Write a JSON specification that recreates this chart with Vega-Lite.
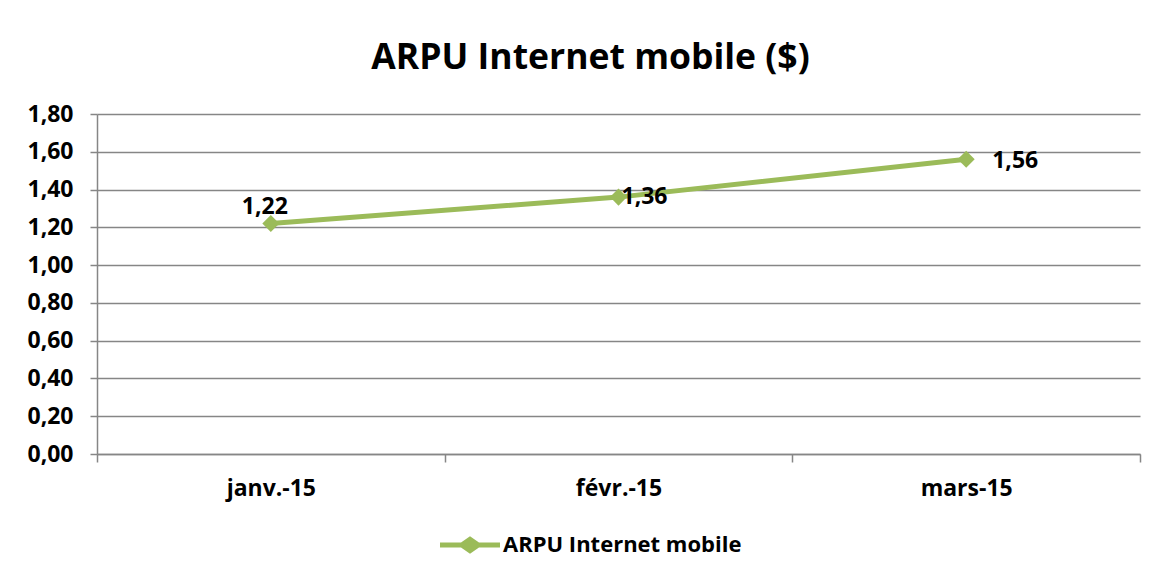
{
  "$schema": "https://vega.github.io/schema/vega-lite/v6.json",
  "width": 1043,
  "height": 340,
  "autosize": {"type": "none"},
  "padding": {"left": 97, "top": 114, "right": 27, "bottom": 127},
  "background": "white",
  "config": {
    "locale": {"number": {"decimal": ",", "thousands": " ", "grouping": [3], "currency": ["", " $"]}},
    "view": {"stroke": null},
    "font": "Open Sans"
  },
  "title": {"text": "ARPU Internet mobile ($)", "fontSize": 35.5, "font": "Open Sans", "fontWeight": "bold", "color": "#000000", "anchor": "middle", "dx": -28, "offset": 27},
  "data": {
    "values": [
      {"mois": "janv.-15", "arpu": 1.22, "serie": "ARPU Internet mobile"},
      {"mois": "févr.-15", "arpu": 1.36, "serie": "ARPU Internet mobile"},
      {"mois": "mars-15", "arpu": 1.56, "serie": "ARPU Internet mobile"}
    ]
  },
  "encoding": {
    "x": {
      "field": "mois", "type": "nominal", "sort": null,
      "scale": {"paddingInner": 0, "paddingOuter": 0},
      "axis": {"title": null, "labelAngle": 0, "labelFont": "Open Sans", "labelFontSize": 23, "labelFontWeight": "bold", "labelColor": "#000000", "tickBand": "extent", "tickSize": 8, "tickColor": "#868686", "tickWidth": 1.5, "domainColor": "#868686", "domainWidth": 1.5, "grid": false, "labelPadding": 15}
    },
    "y": {
      "field": "arpu", "type": "quantitative",
      "scale": {"domain": [0, 1.8]},
      "axis": {"title": null, "values": [0, 0.2, 0.4, 0.6, 0.8, 1.0, 1.2, 1.4, 1.6, 1.8], "format": ".2f", "labelFont": "Open Sans", "labelFontSize": 23, "labelFontWeight": "bold", "labelColor": "#000000", "tickSize": 7, "tickColor": "#868686", "tickWidth": 1.5, "labelPadding": 17, "gridColor": "#868686", "gridWidth": 1.5, "domainColor": "#868686", "domainWidth": 1.5}
    }
  },
  "layer": [
    {
      "mark": {"type": "line", "strokeWidth": 5},
      "encoding": {
        "color": {
          "field": "serie", "type": "nominal",
          "scale": {"range": ["#9BBB59"]},
          "legend": {"title": null, "orient": "none", "legendX": 343, "legendY": 401, "padding": 0, "symbolType": "M-1,-0.085L-0.3,-0.085L0,-0.29L0.3,-0.085L1,-0.085L1,0.085L0.3,0.085L0,0.29L-0.3,0.085L-1,0.085Z", "symbolSize": 3600, "symbolFillColor": "#9BBB59", "symbolStrokeWidth": 0, "symbolOpacity": 1, "labelFont": "Open Sans", "labelFontSize": 22, "labelFontWeight": "bold", "labelColor": "#000000", "labelOffset": 3, "labelLimit": 400}
        }
      }
    },
    {
      "mark": {"type": "point", "shape": "diamond", "filled": true, "size": 290, "color": "#9BBB59", "opacity": 1}
    },
    {
      "transform": [{"filter": "datum.mois === 'janv.-15'"}],
      "mark": {"type": "text", "font": "Open Sans", "fontSize": 23, "fontWeight": "bold", "color": "#000000", "align": "center", "baseline": "middle", "dx": -6, "dy": -17},
      "encoding": {"text": {"field": "arpu", "type": "quantitative", "format": ".2f"}}
    },
    {
      "transform": [{"filter": "datum.mois === 'févr.-15'"}],
      "mark": {"type": "text", "font": "Open Sans", "fontSize": 23, "fontWeight": "bold", "color": "#000000", "align": "left", "baseline": "middle", "dx": 3, "dy": 0},
      "encoding": {"text": {"field": "arpu", "type": "quantitative", "format": ".2f"}}
    },
    {
      "transform": [{"filter": "datum.mois === 'mars-15'"}],
      "mark": {"type": "text", "font": "Open Sans", "fontSize": 23, "fontWeight": "bold", "color": "#000000", "align": "left", "baseline": "middle", "dx": 26, "dy": 2},
      "encoding": {"text": {"field": "arpu", "type": "quantitative", "format": ".2f"}}
    }
  ]
}
